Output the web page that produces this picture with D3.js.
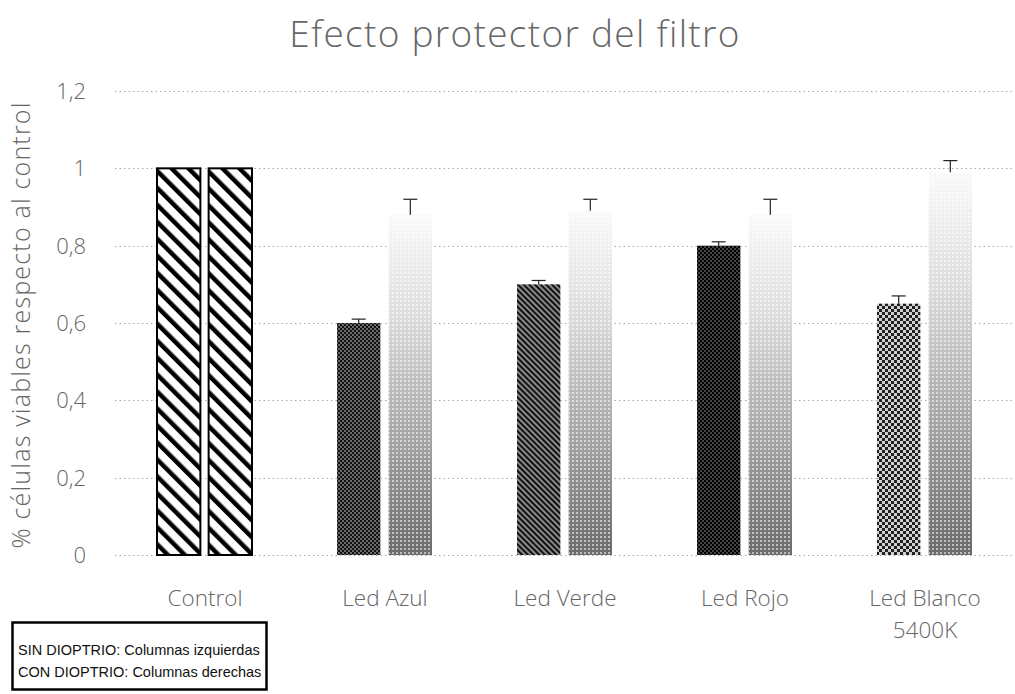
<!DOCTYPE html>
<html><head><meta charset="utf-8">
<script src="https://cdn.jsdelivr.net/npm/d3@7"></script>
<style>
html,body{margin:0;padding:0;background:#fff;}
svg{display:block;}
.lbl{fill:#666;font-family:"Open Sans",sans-serif;font-weight:300;}
</style></head>
<body><svg id="c" width="1015" height="694"></svg>
<script>
const categories = ["Control", "Led Azul", "Led Verde", "Led Rojo", "Led Blanco|5400K"];
const series = ["SIN DIOPTRIO", "CON DIOPTRIO"];
const sinValues = [1.0, 0.60, 0.70, 0.80, 0.65];
const sinErrors = [0, 0.01, 0.01, 0.01, 0.02];
const conValues = [1.0, 0.88, 0.89, 0.88, 0.99];
const conErrors = [0, 0.04, 0.03, 0.04, 0.03];
const yTicks = [0, 0.2, 0.4, 0.6, 0.8, 1.0, 1.2];
const title = "Efecto protector del filtro";
const yTitle = "% células viables respecto al control";
const legendLines = ["SIN DIOPTRIO: Columnas izquierdas", "CON DIOPTRIO: Columnas derechas"];

const svg = d3.select("#c");
const defs = svg.append("defs");

function checker(id, dark, light, size) {
  const p = defs.append("pattern").attr("id", id).attr("patternUnits", "userSpaceOnUse")
    .attr("width", size * 2).attr("height", size * 2);
  p.append("rect").attr("width", size * 2).attr("height", size * 2).attr("fill", light);
  p.append("rect").attr("width", size).attr("height", size).attr("fill", dark);
  p.append("rect").attr("x", size).attr("y", size).attr("width", size).attr("height", size).attr("fill", dark);
}
function stripes(id, color, bg, spacing, width, dir) {
  const p = defs.append("pattern").attr("id", id).attr("patternUnits", "userSpaceOnUse")
    .attr("width", spacing).attr("height", spacing)
    .attr("patternTransform", "rotate(" + dir + ")");
  p.append("rect").attr("width", spacing).attr("height", spacing).attr("fill", bg);
  p.append("rect").attr("width", width).attr("height", spacing).attr("fill", color);
}
stripes("pCtrl", "#000", "#fff", 12, 4.5, -45);
checker("pAzul", "#111", "#6a6a6a", 2);
stripes("pVerde", "#111", "#8a8a8a", 4, 2, -45);
checker("pRojo", "#000", "#444", 2);
checker("pBlanco", "#222", "#d0d0d0", 3);

const g1 = defs.append("linearGradient").attr("id", "gradR").attr("x1", 0).attr("y1", 0).attr("x2", 0).attr("y2", 1);
g1.append("stop").attr("offset", "0%").attr("stop-color", "#fafafa");
g1.append("stop").attr("offset", "30%").attr("stop-color", "#dcdcdc");
g1.append("stop").attr("offset", "65%").attr("stop-color", "#a6a6a6");
g1.append("stop").attr("offset", "100%").attr("stop-color", "#6a6a6a");
const dots = defs.append("pattern").attr("id", "pDots").attr("patternUnits", "userSpaceOnUse").attr("width", 4).attr("height", 4);
dots.append("rect").attr("width", 4).attr("height", 4).attr("fill", "none");
dots.append("rect").attr("x", 0).attr("y", 0).attr("width", 2).attr("height", 2).attr("fill", "#fff").attr("opacity", 0.55);
const sinFills = ["url(#pCtrl)", "url(#pAzul)", "url(#pVerde)", "url(#pRojo)", "url(#pBlanco)"];

const y = d3.scaleLinear().domain([0, 1.2]).range([555, 91]);
const x0 = d3.scaleBand().domain(categories).range([115, 1015]).paddingInner(0).paddingOuter(0);
const x1 = d3.scaleBand().domain(series).range([42, 137]).paddingInner(0.16).paddingOuter(0);

svg.append("g").selectAll("line").data(yTicks).join("line")
  .attr("x1", 115).attr("x2", 1012)
  .attr("y1", d => Math.round(y(d)) + 0.5).attr("y2", d => Math.round(y(d)) + 0.5)
  .attr("stroke", "#aaa").attr("stroke-width", 1).attr("stroke-dasharray", "1.5,3");

svg.append("g").selectAll("text").data(yTicks).join("text")
  .attr("class", "lbl")
  .attr("x", 86).attr("y", d => y(d) + 8)
  .attr("text-anchor", "end").attr("font-size", 22)
  .text(d => d === 0 ? "0" : d3.format(".1~f")(d).replace(".", ","));

const data = categories.map((c, i) => ({
  c, i, sin: sinValues[i], sinE: sinErrors[i], con: conValues[i], conE: conErrors[i]
}));
const gb = svg.append("g");
gb.selectAll("rect.sin").data(data).join("rect").attr("class", "sin")
  .attr("x", d => x0(d.c) + x1("SIN DIOPTRIO"))
  .attr("y", d => y(d.sin))
  .attr("width", x1.bandwidth())
  .attr("height", d => y(0) - y(d.sin))
  .attr("fill", d => sinFills[d.i])
  .attr("stroke", d => d.i === 0 ? "#000" : "none")
  .attr("stroke-width", 2);
gb.selectAll("rect.con").data(data).join("rect").attr("class", "con")
  .attr("x", d => x0(d.c) + x1("CON DIOPTRIO"))
  .attr("y", d => y(d.con))
  .attr("width", x1.bandwidth())
  .attr("height", d => y(0) - y(d.con))
  .attr("fill", d => d.i === 0 ? "url(#pCtrl)" : "url(#gradR)")
  .attr("stroke", d => d.i === 0 ? "#000" : "none")
  .attr("stroke-width", 2);
gb.selectAll("rect.cond").data(data.filter(d => d.i > 0)).join("rect").attr("class", "cond")
  .attr("x", d => x0(d.c) + x1("CON DIOPTRIO"))
  .attr("y", d => y(d.con))
  .attr("width", x1.bandwidth())
  .attr("height", d => y(0) - y(d.con))
  .attr("fill", "url(#pDots)");

const errs = [];
data.forEach(d => {
  if (d.sinE > 0) errs.push({ cx: x0(d.c) + x1("SIN DIOPTRIO") + x1.bandwidth() / 2, v: d.sin, e: d.sinE });
  if (d.conE > 0) errs.push({ cx: x0(d.c) + x1("CON DIOPTRIO") + x1.bandwidth() / 2, v: d.con, e: d.conE });
});
const ge = svg.append("g").attr("stroke", "#222").attr("stroke-width", 1.2);
ge.selectAll("line.v").data(errs).join("line")
  .attr("x1", d => d.cx).attr("x2", d => d.cx)
  .attr("y1", d => y(d.v)).attr("y2", d => y(d.v + d.e));
ge.selectAll("line.h").data(errs).join("line")
  .attr("x1", d => d.cx - 7).attr("x2", d => d.cx + 7)
  .attr("y1", d => y(d.v + d.e)).attr("y2", d => y(d.v + d.e));

const xl = svg.append("g").selectAll("text").data(categories).join("text")
  .attr("class", "lbl")
  .attr("x", d => x0(d) + x0.bandwidth() / 2)
  .attr("y", 606).attr("text-anchor", "middle").attr("font-size", 22.5);
xl.each(function (d) {
  const parts = d.split("|");
  const t = d3.select(this);
  parts.forEach((p, k) => {
    t.append("tspan").attr("x", x0(d) + x0.bandwidth() / 2).attr("dy", k === 0 ? 0 : 32).text(p);
  });
});

svg.append("text").attr("class", "lbl")
  .attr("x", 515).attr("y", 47).attr("text-anchor", "middle").attr("font-size", 37)
  .attr("letter-spacing", 1.3)
  .text(title);

svg.append("text").attr("class", "lbl")
  .attr("transform", "translate(30,325) rotate(-90)")
  .attr("text-anchor", "middle").attr("font-size", 25)
  .attr("letter-spacing", 1.2)
  .text(yTitle);

svg.append("rect").attr("x", 12.5).attr("y", 622.5).attr("width", 254).attr("height", 67)
  .attr("fill", "#fff").attr("stroke", "#000").attr("stroke-width", 2.5);
svg.append("g").selectAll("text").data(legendLines).join("text")
  .attr("x", 18).attr("y", (d, i) => 655 + i * 22)
  .attr("font-family", "Liberation Sans, Arial, sans-serif").attr("font-size", 14.5)
  .attr("fill", "#111")
  .text(d => d);
</script>
</body></html>
